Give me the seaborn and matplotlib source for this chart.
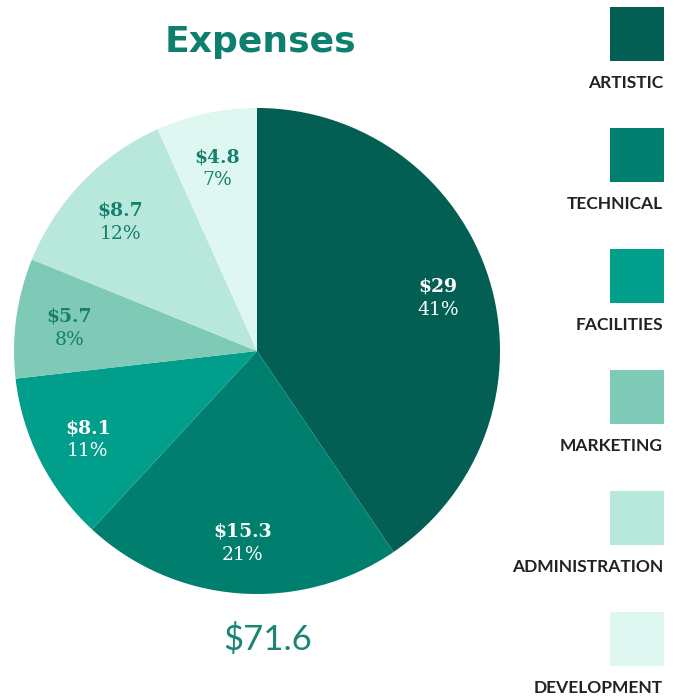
import numpy as np
import matplotlib
matplotlib.use("Agg")
import matplotlib.pyplot as plt
import seaborn as sns

# expense categories and amounts (in $k)
categories = ["ARTISTIC", "TECHNICAL", "FACILITIES", "MARKETING", "ADMINISTRATION", "DEVELOPMENT"]
amounts = [29, 15.3, 8.1, 5.7, 8.7, 4.8]
colors = ["#035f53", "#007f6e", "#009e8b", "#7ecab6", "#b8e8db", "#dff7f1"]
label_colors = ["white", "white", "white", "#16806e", "#16806e", "#16806e"]

sns.set_theme(style="white")
plt.rcParams["font.family"] = ["DejaVu Sans"]

total = sum(amounts)

fig = plt.figure(figsize=(6.79, 6.98), dpi=100)

# pie
ax = fig.add_axes([0.0206, 0.149, 0.7158, 0.6963])
wedges, _ = ax.pie(amounts, colors=colors, startangle=90, counterclock=False,
                   radius=1, wedgeprops=dict(linewidth=0))
ax.set_xlim(-1, 1)
ax.set_ylim(-1, 1)
ax.set_aspect("equal")
ax.axis("off")

for w, v, c in zip(wedges, amounts, label_colors):
    ang = np.deg2rad((w.theta1 + w.theta2) / 2)
    r = 0.78
    x, y = r * np.cos(ang), r * np.sin(ang)
    val = f"${v:g}"
    pct = f"{int(v / total * 100 + 0.5)}%"
    ax.annotate(val, (x, y), xytext=(0, 6), textcoords="offset points",
                ha="center", va="center", color=c, fontsize=13.5,
                fontweight="bold", family="DejaVu Serif")
    ax.annotate(pct, (x, y), xytext=(0, -10.5), textcoords="offset points",
                ha="center", va="center", color=c, fontsize=13.5,
                family="DejaVu Serif")

# title and total
fig.text(260 / 679, 1 - 42 / 698, "Expenses", ha="center", va="center",
         fontsize=26, fontweight="bold", color="#0d7f6e")
fig.text(268 / 679, 1 - 640 / 698, f"${total:g}", ha="center", va="center",
         fontsize=25, fontweight="normal", color="#1a8573", family="Lato")

# legend column
lax = fig.add_axes([0, 0, 1, 1], facecolor="none")
lax.set_xlim(0, 679)
lax.set_ylim(698, 0)
lax.axis("off")
for i, (name, c) in enumerate(zip(categories, colors)):
    top = 7 + i * 121
    lax.add_patch(plt.Rectangle((610, top), 54, 54, color=c, lw=0))
    lax.text(663, top + 76, name, ha="right", va="center", fontsize=12.5,
             fontweight="bold", color="#222222", family="Lato")

fig.savefig("out.png", dpi=100)
